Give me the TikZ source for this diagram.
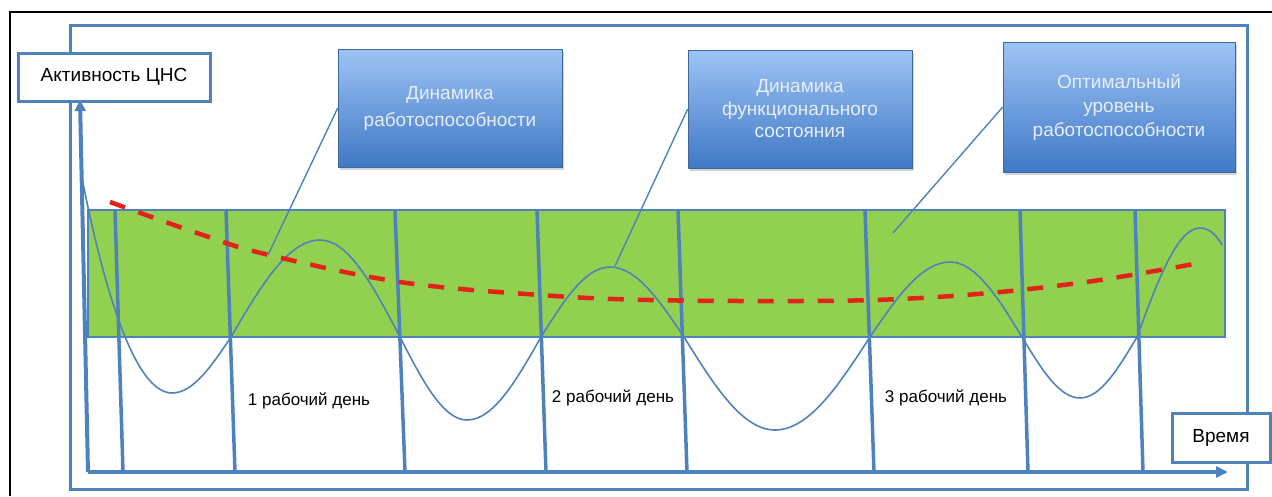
\documentclass[tikz,border=0pt]{standalone}
\usepackage{fontspec}
\setmainfont{Liberation Sans}
\usetikzlibrary{arrows.meta,shadows}

\definecolor{lineblue}{HTML}{4F81BD}
\definecolor{zonegreen}{HTML}{92D050}
\definecolor{boxtop}{HTML}{9EC4F5}
\definecolor{boxbot}{HTML}{3F78C6}
\definecolor{boxtext}{HTML}{E6EEF9}
\definecolor{trendred}{HTML}{E2231A}

\begin{document}
\begin{tikzpicture}[x=1pt, y=-1pt,
    axisbox/.style={draw=lineblue, line width=3pt, fill=white, inner sep=0pt,
      font=\fontsize{19}{23}\selectfont},
    infobox/.style={draw=lineblue!80!black, line width=0.6pt, top color=boxtop,
      bottom color=boxbot, text=boxtext, align=center, inner sep=0pt,
      drop shadow={shadow xshift=2pt, shadow yshift=-3pt, opacity=0.35}},
    daymark/.style={lineblue, line width=3.5pt},
    callout/.style={lineblue, line width=1.4pt},
    daylabel/.style={font=\fontsize{17}{20}\selectfont}]
    \useasboundingbox (0,0) rectangle (1272,496);
    % outer frame, only top and left are in view
    \draw[line width=2pt] (1272,12) -- (10,12) -- (10,496);
    \draw[lineblue, line width=3pt] (70,25) rectangle (1247,489);
    % optimal zone
    \fill[zonegreen] (88,210) rectangle (1225,337);
    \draw[lineblue, line width=1.2pt] (88,210) rectangle (1225,337);
    % axes
    \coordinate (O) at (88,472);
    \coordinate (ytop) at (80,100);
    \coordinate (xend) at (1228,472);
    \draw[lineblue, line width=4pt, -{Triangle[length=11pt,width=11pt]}] (O) -- (ytop);
    \draw[lineblue, line width=4pt, -{Triangle[length=12pt,width=11pt]}] (O) -- (xend);
    % boundaries of the working days
    \foreach \xt/\xb in {115/123, 226/235, 395/405, 537/546, 678/687, 865/874, 1020/1028, 1135/1143}
      \draw[daymark] (\xt,210) -- (\xb,472);
    % functional state
    \draw[lineblue, line width=1.6pt] (82,178) .. controls (104,290) and (135,393) .. (172,393)
      cos (231,337) sin (320,240) cos (400,337) sin (467,420) cos (541,337)
      sin (610,267) cos (684,337) sin (775,430) cos (870,337) sin (950,262)
      cos (1022,337) sin (1080,398) cos (1137,337) sin (1200,228)
      .. controls (1210,228) and (1217,236) .. (1222,245);
    % work capacity trend
    \draw[trendred, line width=4.5pt, dash pattern=on 16pt off 14pt] plot[smooth, tension=0.6]
      coordinates {(110,202) (200,234) (265,254) (400,282) (540,295) (650,300)
        (800,301) (900,299) (1000,292) (1100,280) (1205,262)};
    % labels
    \node[axisbox, minimum width=192pt, minimum height=48pt] (act) at (114,77) {Активность ЦНС};
    \node[axisbox, minimum width=98pt, minimum height=49pt] (time) at (1221,438) {Время};
    \node[daylabel] (day1) at (309,401) {1 рабочий день};
    \node[daylabel] (day2) at (613,398) {2 рабочий день};
    \node[daylabel] (day3) at (946,398) {3 рабочий день};
    \node[infobox, minimum width=224pt, minimum height=118pt,
      font=\fontsize{19}{27}\selectfont] (dyncap) at (450,108) {Динамика\\работоспособности};
    \node[infobox, minimum width=224pt, minimum height=118pt,
      font=\fontsize{19}{22.5}\selectfont] (dynstate) at (800,109) {Динамика\\функционального\\состояния};
    \node[infobox, minimum width=232pt, minimum height=130pt,
      font=\fontsize{19}{24}\selectfont] (optlevel) at (1119,107) {Оптимальный\\уровень\\работоспособности};
    \coordinate (p1) at (268,255);
    \coordinate (p2) at (615,266);
    \coordinate (p3) at (893,233);
    \draw[callout] (dyncap.west) -- (p1);
    \draw[callout] (dynstate.west) -- (p2);
    \draw[callout] (optlevel.west) -- (p3);
\end{tikzpicture}
\end{document}
